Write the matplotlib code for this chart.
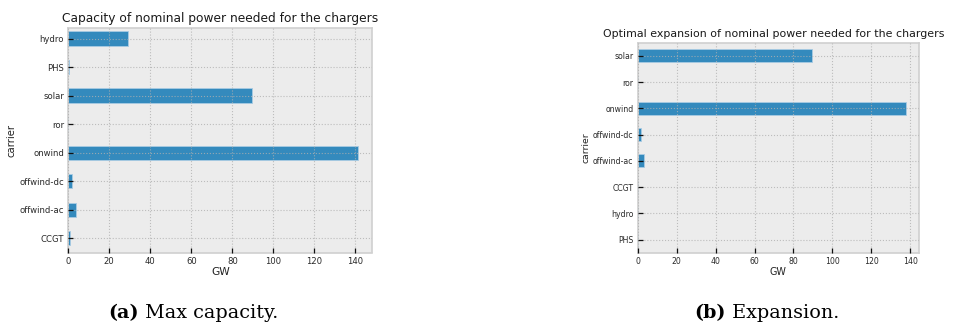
import matplotlib
matplotlib.use("Agg")
import matplotlib.pyplot as plt

plt.style.use("bmh")

# installed capacity per carrier (GW)
cap_carriers = ["CCGT", "offwind-ac", "offwind-dc", "onwind", "ror", "solar", "PHS", "hydro"]
cap_values = [0.8, 3.6, 1.7, 141.2, 0.0, 89.4, 0.3, 29.0]

# optimal expansion per carrier (GW)
exp_carriers = ["PHS", "hydro", "CCGT", "offwind-ac", "offwind-dc", "onwind", "ror", "solar"]
exp_values = [0.0, 0.0, 0.0, 3.3, 1.7, 137.6, 0.0, 89.5]

W, H = 956, 326
fig = plt.figure(figsize=(W / 100, H / 100), dpi=100)
fig.patch.set_facecolor("white")


def px_axes(left, top, right, bottom):
    return fig.add_axes([left / W, 1 - bottom / H, (right - left) / W, (bottom - top) / H])


def draw(ax, carriers, values, title, base, ylim, title_size, title_x=0.5):
    ax.barh(range(len(carriers)), values, height=0.5, color="#348ABD",
            edgecolor="#a9cbe3", linewidth=0.6, zorder=2)
    ax.set_yticks(range(len(carriers)))
    ax.set_yticklabels(carriers)
    ax.set_xlim(0, max(values) * 1.05)
    ax.set_ylim(*ylim)
    ax.set_facecolor("#ececec")
    # grid sits on top of the bars, faintly
    ax.set_axisbelow(False)
    ax.grid(True, color="#b0b0b0", linestyle=":", linewidth=0.8, alpha=0.8)
    for s in ax.spines.values():
        s.set_color("#d0d0d0")
        s.set_linewidth(1.2)
    ax.tick_params(direction="in", length=3.5, width=0.9, color="#111111",
                   labelsize=base, pad=3)
    ax.set_xlabel("GW", fontsize=base * 1.25, labelpad=1, color="#222222")
    ax.set_ylabel("carrier", fontsize=base * 1.2, labelpad=2, color="#222222")
    ax.set_title(title, fontsize=title_size, pad=4, color="#1a1a1a", x=title_x)
    for lab in ax.get_xticklabels() + ax.get_yticklabels():
        lab.set_color("#2a2a2a")


ax1 = px_axes(68.3, 27.7, 372.3, 252.5)
draw(ax1, cap_carriers, cap_values, "Capacity of nominal power needed for the chargers",
     6.1, (-0.5, 7.38), 8.8)

ax2 = px_axes(637.7, 42.7, 919.0, 252.7)
draw(ax2, exp_carriers, exp_values, "Optimal expansion of nominal power needed for the chargers",
     5.55, (-0.5, 7.5), 7.9, title_x=0.482)

# subfigure captions
serif = "DejaVu Serif"
r = fig.canvas.get_renderer()
for cx, tag, body in [(193, "(a)", " Max capacity."), (767, "(b)", " Expansion.")]:
    t1 = fig.text(0, 0, tag, fontsize=13.8, family=serif, weight="bold")
    t2 = fig.text(0, 0, body, fontsize=13.8, family=serif)
    w1 = t1.get_window_extent(r).width
    w2 = t2.get_window_extent(r).width
    x0 = cx - (w1 + w2) / 2
    t1.set_position((x0 / W, 1 - 318 / H))
    t2.set_position(((x0 + w1) / W, 1 - 318 / H))

fig.savefig("out.png", dpi=100, facecolor="white")
